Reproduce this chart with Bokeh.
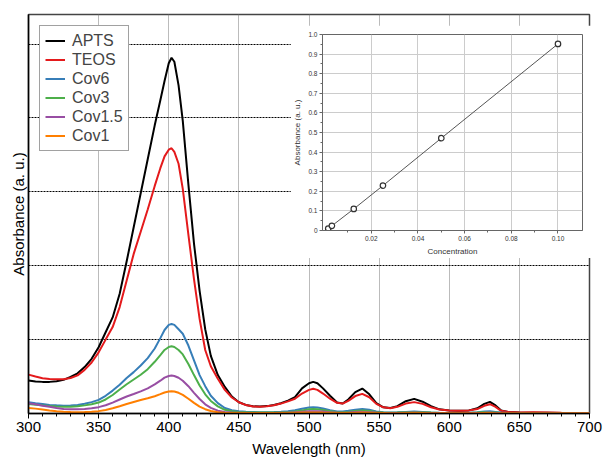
from bokeh.plotting import figure
from bokeh.models import FixedTicker, Legend, LegendItem, GridBox, Range1d
from bokeh.embed import file_html
from bokeh.resources import INLINE

# ---------------- data ----------------
wavelength = [300, 305, 310, 315, 320, 325, 330, 335, 340, 345,
              350, 355, 360, 365, 370, 375, 380, 385, 390, 394,
              397, 400, 402, 404, 407, 410, 414, 418, 422, 426,
              430, 435, 440, 445, 450, 455, 460, 465, 470, 475,
              480, 485, 490, 495, 500, 503, 506, 510, 515, 520,
              524, 528, 533, 538, 543, 548, 553, 558, 563, 569,
              575, 581, 587, 593, 600, 607, 614, 620, 625, 629,
              633, 637, 642, 650, 660, 670, 680, 690, 700]

apts = [0.223, 0.216, 0.214, 0.214, 0.218, 0.228, 0.248, 0.272, 0.314, 0.37,
        0.448, 0.55, 0.65, 0.81, 1.03, 1.26, 1.49, 1.72, 1.95, 2.12,
        2.25, 2.37, 2.407, 2.38, 2.22, 1.98, 1.55, 1.15, 0.83, 0.57,
        0.39, 0.26, 0.18, 0.115, 0.076, 0.058, 0.049, 0.047, 0.05, 0.058,
        0.07, 0.087, 0.11, 0.17, 0.205, 0.214, 0.205, 0.17, 0.12, 0.075,
        0.068, 0.095, 0.145, 0.169, 0.13, 0.07, 0.042, 0.037, 0.05, 0.083,
        0.099, 0.08, 0.05, 0.028, 0.021, 0.019, 0.021, 0.035, 0.065, 0.079,
        0.055, 0.02, 0.01, 0.006, 0.005, 0.005, 0.004, 0.003, 0.003]

teos = [0.263, 0.25, 0.238, 0.233, 0.232, 0.232, 0.24, 0.258, 0.295, 0.345,
        0.414, 0.5, 0.585, 0.72, 0.9, 1.08, 1.23, 1.38, 1.54, 1.66,
        1.74, 1.785, 1.795, 1.77, 1.69, 1.52, 1.21, 0.91, 0.64, 0.43,
        0.32, 0.235, 0.16, 0.108, 0.076, 0.057, 0.048, 0.046, 0.049, 0.056,
        0.067, 0.082, 0.1, 0.135, 0.16, 0.167, 0.16, 0.135, 0.1, 0.072,
        0.067, 0.085, 0.118, 0.133, 0.11, 0.065, 0.042, 0.036, 0.045, 0.067,
        0.077, 0.065, 0.042, 0.027, 0.021, 0.019, 0.02, 0.03, 0.052, 0.063,
        0.045, 0.018, 0.01, 0.007, 0.008, 0.007, 0.005, 0.004, 0.003]

cov6 = [0.077, 0.07, 0.064, 0.058, 0.055, 0.053, 0.054, 0.058, 0.066, 0.077,
        0.092, 0.12, 0.155, 0.195, 0.24, 0.28, 0.325, 0.375, 0.44, 0.51,
        0.565, 0.6, 0.606, 0.6, 0.57, 0.54, 0.46, 0.36, 0.26, 0.185,
        0.12, 0.07, 0.037, 0.022, 0.016, 0.012, 0.01, 0.009, 0.009, 0.01,
        0.012, 0.015, 0.022, 0.032, 0.041, 0.043, 0.041, 0.034, 0.022, 0.014,
        0.013, 0.018, 0.026, 0.03, 0.025, 0.014, 0.008, 0.007, 0.008, 0.011,
        0.013, 0.011, 0.007, 0.005, 0.004, 0.004, 0.005, 0.008, 0.013, 0.015,
        0.011, 0.006, 0.004, 0.003, 0.003, 0.002, 0.002, 0.002, 0.002]

cov3 = [0.065, 0.06, 0.055, 0.05, 0.047, 0.045, 0.046, 0.049, 0.055, 0.063,
        0.074, 0.095, 0.125, 0.162, 0.198, 0.23, 0.262, 0.3, 0.35, 0.395,
        0.43, 0.45, 0.455, 0.45, 0.43, 0.4, 0.335, 0.26, 0.19, 0.13,
        0.085, 0.048, 0.025, 0.015, 0.01, 0.008, 0.007, 0.006, 0.006, 0.007,
        0.008, 0.01, 0.014, 0.021, 0.028, 0.03, 0.028, 0.023, 0.015, 0.01,
        0.009, 0.012, 0.017, 0.02, 0.017, 0.01, 0.006, 0.005, 0.006, 0.009,
        0.011, 0.009, 0.006, 0.004, 0.003, 0.003, 0.004, 0.006, 0.008, 0.009,
        0.007, 0.004, 0.003, 0.002, 0.002, 0.002, 0.002, 0.002, 0.002]

cov15 = [0.07, 0.062, 0.053, 0.045, 0.037, 0.031, 0.028, 0.028, 0.03, 0.035,
         0.043, 0.056, 0.074, 0.095, 0.115, 0.132, 0.15, 0.17, 0.197, 0.222,
         0.243, 0.254, 0.257, 0.254, 0.242, 0.222, 0.185, 0.14, 0.098, 0.062,
         0.038, 0.019, 0.01, 0.006, 0.005, 0.004, 0.004, 0.004, 0.004, 0.004,
         0.005, 0.006, 0.008, 0.012, 0.015, 0.016, 0.015, 0.013, 0.009, 0.006,
         0.005, 0.007, 0.01, 0.011, 0.009, 0.006, 0.004, 0.003, 0.004, 0.005,
         0.006, 0.005, 0.004, 0.003, 0.002, 0.002, 0.003, 0.004, 0.005, 0.006,
         0.004, 0.003, 0.002, 0.002, 0.002, 0.002, 0.001, 0.001, 0.001]

cov1 = [0.038, 0.033, 0.027, 0.021, 0.016, 0.012, 0.01, 0.009, 0.01, 0.012,
        0.016, 0.024, 0.035, 0.049, 0.064, 0.078, 0.091, 0.103, 0.117, 0.131,
        0.142, 0.149, 0.151, 0.149, 0.14, 0.126, 0.1, 0.072, 0.047, 0.029,
        0.017, 0.009, 0.005, 0.004, 0.003, 0.003, 0.003, 0.003, 0.003, 0.003,
        0.003, 0.004, 0.005, 0.006, 0.007, 0.007, 0.007, 0.006, 0.005, 0.004,
        0.003, 0.004, 0.005, 0.006, 0.005, 0.004, 0.003, 0.002, 0.002, 0.003,
        0.003, 0.003, 0.002, 0.002, 0.002, 0.002, 0.002, 0.002, 0.003, 0.003,
        0.002, 0.002, 0.001, 0.001, 0.001, 0.001, 0.001, 0.001, 0.001]

series_names = ["APTS", "TEOS", "Cov6", "Cov3", "Cov1.5", "Cov1"]
series_values = [apts, teos, cov6, cov3, cov15, cov1]
series_colors = ["#000000", "#e41a1c", "#377eb8", "#4daf4a", "#984ea3", "#ff7f00"]

x_ticks = [300, 350, 400, 450, 500, 550, 600, 650, 700]
x_minor = [v for v in range(300, 701, 10)]
x_grid = [350, 400, 450, 500, 550, 600, 650]
y_grid = [0.5, 1.0, 1.5, 2.0, 2.5]

# inset (calibration)
concentration = [0.0015625, 0.003125, 0.0125, 0.025, 0.05, 0.1]
absorbance = [0.010, 0.024, 0.110, 0.229, 0.471, 0.952]
inset_x_ticks = [0.02, 0.04, 0.06, 0.08, 0.1]
inset_x_labels = ["0.02", "0.04", "0.06", "0.08", "0.10"]
inset_x_minor = [0.01, 0.03, 0.05, 0.07, 0.09]
inset_y_ticks = [0.0, 0.1, 0.2, 0.3, 0.4, 0.5, 0.6, 0.7, 0.8, 0.9, 1.0]
inset_y_labels = ["0", "0.1", "0.2", "0.3", "0.4", "0.5", "0.6", "0.7", "0.8", "0.9", "1.0"]
inset_y_minor = [0.05, 0.15, 0.25, 0.35, 0.45, 0.55, 0.65, 0.75, 0.85, 0.95]

FONT = "Liberation Sans"

for s in series_values:
    assert len(s) == len(wavelength)

# ---------------- main figure ----------------
p = figure(width=603, height=462, x_range=Range1d(300, 700), y_range=Range1d(0, 2.7),
           output_backend="svg", toolbar_location=None,
           min_border_left=28, min_border_right=14, min_border_top=14, min_border_bottom=49)
p.background_fill_color = "white"
p.border_fill_color = "white"
p.outline_line_color = "#444444"
p.outline_line_width = 1.5

xa = p.xaxis[0]
xa.ticker = FixedTicker(ticks=x_ticks, minor_ticks=x_minor)
xa.axis_label = "Wavelength (nm)"
xa.axis_label_text_font = FONT
xa.axis_label_text_font_size = "15px"
xa.axis_label_text_font_style = "normal"
xa.axis_label_text_color = "black"
xa.axis_label_standoff = 5
xa.major_label_text_font = FONT
xa.major_label_text_font_size = "15px"
xa.major_label_text_color = "black"
xa.major_label_standoff = 3
xa.axis_line_width = 1.5
xa.axis_line_color = "black"
xa.major_tick_in = 0
xa.major_tick_out = 5
xa.minor_tick_in = 0
xa.minor_tick_out = 3
xa.major_tick_line_color = "black"
xa.minor_tick_line_color = "black"

ya = p.yaxis[0]
ya.ticker = FixedTicker(ticks=[])
ya.axis_label = "Absorbance (a. u.)"
ya.axis_label_text_font = FONT
ya.axis_label_text_font_size = "15px"
ya.axis_label_text_font_style = "normal"
ya.axis_label_text_color = "black"
ya.axis_label_standoff = 2
ya.major_label_standoff = 0
ya.major_tick_in = 0
ya.major_tick_out = 0
ya.minor_tick_in = 0
ya.minor_tick_out = 0
ya.axis_line_width = 1.5
ya.axis_line_color = "black"
ya.major_tick_line_color = None
ya.minor_tick_line_color = None

p.xgrid.ticker = FixedTicker(ticks=x_grid)
p.xgrid.grid_line_color = "#777777"
p.xgrid.grid_line_dash = "1 1"
p.xgrid.grid_line_width = 1
p.ygrid.ticker = FixedTicker(ticks=y_grid)
p.ygrid.grid_line_color = "black"
p.ygrid.grid_line_dash = "2 1"
p.ygrid.grid_line_width = 1

items = []
for name, vals, col in zip(series_names, series_values, series_colors):
    r = p.line(wavelength, vals, line_color=col, line_width=2)
    items.append(LegendItem(label=name, renderers=[r]))

legend = Legend(items=items, location="top_left", margin=11,
                label_text_font=FONT, label_text_font_size="16px",
                label_height=19, glyph_height=19, glyph_width=20,
                label_standoff=7, spacing=0, padding=5,
                border_line_color="#444444", border_line_width=1.5,
                background_fill_color="white", background_fill_alpha=1.0)
p.add_layout(legend)

# ---------------- inset ----------------
inset = figure(width=301, height=233, x_range=Range1d(-0.0009, 0.1105), y_range=Range1d(0, 1.0),
               output_backend="svg", toolbar_location=None,
               min_border_left=29, min_border_right=9, min_border_top=9, min_border_bottom=26)
inset.background_fill_color = "white"
inset.border_fill_color = "white"
inset.outline_line_color = "#666666"
inset.outline_line_width = 1

ix = inset.xaxis[0]
ix.ticker = FixedTicker(ticks=inset_x_ticks, minor_ticks=inset_x_minor)
ix.major_label_overrides = dict(zip(inset_x_ticks, inset_x_labels))
iy = inset.yaxis[0]
iy.ticker = FixedTicker(ticks=inset_y_ticks, minor_ticks=inset_y_minor)
iy.major_label_overrides = dict(zip(inset_y_ticks, inset_y_labels))
ix.axis_label = "Concentration"
iy.axis_label = "Absorbance (a. u.)"
for ax in (ix, iy):
    ax.axis_label_text_font = FONT
    ax.axis_label_text_font_size = "8px"
    ax.axis_label_text_font_style = "normal"
    ax.axis_label_text_color = "#333333"
    ax.axis_label_standoff = 3
    ax.major_label_text_font = FONT
    ax.major_label_text_font_size = "6.5px"
    ax.major_label_text_color = "#333333"
    ax.major_label_standoff = 2
    ax.axis_line_color = "#666666"
    ax.major_tick_line_color = "#666666"
    ax.minor_tick_line_color = "#666666"
    ax.major_tick_in = 0
    ax.major_tick_out = 3
    ax.minor_tick_in = 0
    ax.minor_tick_out = 2
inset.xgrid.ticker = FixedTicker(ticks=inset_x_ticks)
inset.ygrid.ticker = FixedTicker(ticks=inset_y_ticks[1:-1])
inset.xgrid.grid_line_color = "#cccccc"
inset.ygrid.grid_line_color = "#cccccc"

inset.line(concentration, absorbance, line_color="#555555", line_width=1)
inset.scatter(concentration, absorbance, size=5.5, marker="circle",
              fill_color="white", line_color="#333333", line_width=1.2)

# keep each plot's own borders (no frame alignment between the two plots)
for fig in (p, inset):
    try:
        fig.frame_align = False
    except Exception:
        pass

inset.styles = {"position": "absolute", "left": "290px", "top": "25px", "z-index": "10"}

layout = GridBox(children=[(p, 0, 0), (inset, 0, 0)])

open("out.html", "w").write(file_html(layout, INLINE))
